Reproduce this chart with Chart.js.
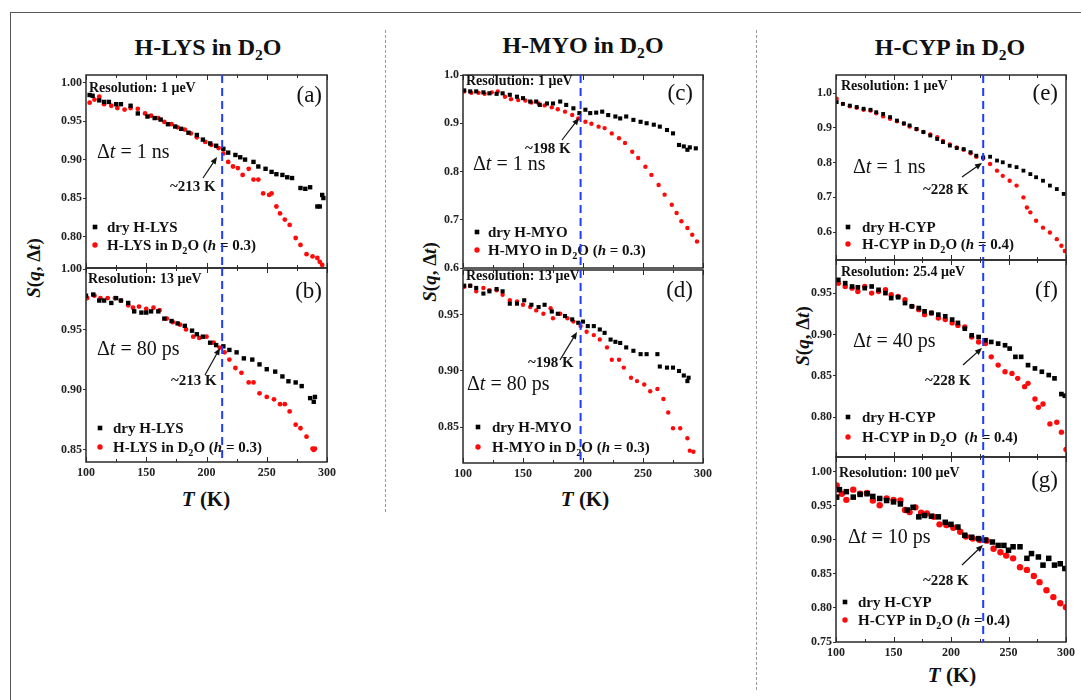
<!DOCTYPE html>
<html>
<head>
<meta charset="utf-8">
<script src="https://cdn.jsdelivr.net/npm/chart.js@4.4.0/dist/chart.umd.min.js"></script>
<style>
  body { margin: 0; width: 1081px; height: 700px; position: relative; background: #fff; overflow: hidden;
         font-family: "Liberation Serif", "Times New Roman", serif; color: #111; }
  canvas { position: absolute; left: 0; top: 0; }
  .txt { position: absolute; font-weight: bold; white-space: nowrap; line-height: 1; }
  .title { font-size: 24px; transform: translateX(-50%); }
  .xt { font-size: 21px; transform: translateX(-50%); }
  .yt { font-size: 19px; transform: translate(-50%, -50%) rotate(-90deg); }
  .sub { font-size: 65%; position: relative; top: 0.3em; }
  .line { position: absolute; }
</style>
</head>
<body>
<div class="line" style="left:10px;top:12px;width:1071px;border-top:1px solid #555"></div>
<div class="line" style="left:10px;top:12px;height:688px;border-left:1px solid #555"></div>
<div class="line" style="left:385px;top:30px;height:482px;border-left:1px dashed #999"></div>
<div class="line" style="left:756px;top:30px;height:660px;border-left:1px dashed #999"></div>

<div class="txt title" style="left:208px;top:35px">H-LYS in D<span class="sub">2</span>O</div>
<div class="txt title" style="left:583px;top:33px">H-MYO in D<span class="sub">2</span>O</div>
<div class="txt title" style="left:950px;top:35px">H-CYP in D<span class="sub">2</span>O</div>

<div class="txt xt" style="left:206px;top:489px"><i>T</i> (K)</div>
<div class="txt xt" style="left:585px;top:489px"><i>T</i> (K)</div>
<div class="txt xt" style="left:952px;top:665px"><i>T</i> (K)</div>

<div class="txt yt" style="left:33px;top:268px"><i>S</i>(<i>q</i>, Δ<i>t</i>)</div>
<div class="txt yt" style="left:429px;top:272px"><i>S</i>(<i>q</i>, Δ<i>t</i>)</div>
<div class="txt yt" style="left:802px;top:336px"><i>S</i>(<i>q</i>, Δ<i>t</i>)</div>

<script>
// ---- data: T (K) and S(q, Δt) ----
// (a) H-LYS, 1 ns
const aDryT = [103,105.5,111,115,119,125,129,137,143,151,157,162,168,174,179,185,192,197,203,208,214,218,224,228,232,239,243,249,254,258,263,267,271,278,282,286,292,294,296,297];
const aDryS = [0.984,0.983,0.977,0.975,0.975,0.972,0.972,0.970,0.960,0.956,0.954,0.952,0.946,0.943,0.940,0.935,0.932,0.926,0.921,0.918,0.914,0.909,0.906,0.903,0.900,0.897,0.891,0.888,0.884,0.881,0.880,0.877,0.876,0.863,0.862,0.864,0.839,0.839,0.854,0.850];
const aWetT = [103,107,111,115,121,126,132,137,143,149,154,160,165,171,176,182,187,192,199,204,210,214,218,222,226,230,235,239,243,247,252,254,258,261,265,269,274,278,283,288,292,294,296];
const aWetS = [0.974,0.978,0.982,0.972,0.970,0.967,0.965,0.967,0.966,0.960,0.957,0.954,0.949,0.946,0.942,0.939,0.934,0.929,0.923,0.919,0.915,0.908,0.897,0.891,0.889,0.880,0.888,0.874,0.874,0.856,0.854,0.856,0.839,0.830,0.822,0.815,0.798,0.789,0.777,0.774,0.772,0.767,0.763];
// (b) H-LYS, 80 ps
const bDryT = [100,106,111,115,121,125,129,135,140,146,150,154,160,165,171,176,182,188,192,197,203,208,214,219,225,231,238,244,250,257,263,268,274,279,286,289,290];
const bDryS = [0.978,0.979,0.974,0.974,0.972,0.976,0.974,0.972,0.965,0.964,0.964,0.965,0.965,0.959,0.957,0.955,0.953,0.949,0.946,0.944,0.939,0.937,0.936,0.933,0.931,0.926,0.925,0.921,0.917,0.915,0.911,0.907,0.906,0.903,0.893,0.890,0.894];
const bWetT = [101,107,112,118,124,129,135,139,144,150,156,161,167,172,178,183,189,194,200,206,211,215,219,224,229,235,239,244,250,256,261,265,269,274,278,283,288,289,290];
const bWetS = [0.976,0.978,0.976,0.976,0.976,0.974,0.970,0.968,0.969,0.967,0.968,0.966,0.959,0.956,0.954,0.950,0.944,0.943,0.944,0.939,0.935,0.931,0.925,0.918,0.914,0.906,0.906,0.897,0.894,0.892,0.888,0.888,0.882,0.871,0.868,0.861,0.851,0.850,0.851];
// (c) H-MYO, 1 ns
const cDryT = [101,106,111,117,122,128,133,139,145,150,156,161,164,170,175,181,186,192,197,202,206,211,216,221,227,231,236,242,248,253,259,264,270,275,280,284,287,289,294];
const cDryS = [0.968,0.966,0.966,0.964,0.962,0.961,0.962,0.959,0.955,0.952,0.945,0.945,0.938,0.941,0.941,0.945,0.938,0.931,0.921,0.928,0.921,0.922,0.924,0.917,0.914,0.910,0.914,0.907,0.903,0.900,0.897,0.893,0.886,0.879,0.855,0.852,0.845,0.850,0.848];
const cWetT = [101,107,113,118,124,129,135,140,146,152,157,163,168,174,179,185,191,196,202,207,213,218,224,230,235,241,246,252,257,263,268,274,278,282,287,291,295];
const cWetS = [0.966,0.963,0.963,0.961,0.964,0.966,0.955,0.950,0.948,0.947,0.943,0.941,0.937,0.933,0.929,0.924,0.917,0.910,0.903,0.899,0.893,0.890,0.879,0.869,0.859,0.841,0.828,0.810,0.793,0.772,0.752,0.731,0.714,0.697,0.683,0.669,0.655];
// (d) H-MYO, 80 ps
const dDryT = [101,106,111,117,122,128,133,139,145,151,157,163,168,174,179,185,191,196,200,204,209,214,218,223,227,231,236,242,248,253,262,264,270,275,280,284,287,288];
const dDryS = [0.976,0.976,0.974,0.969,0.971,0.973,0.971,0.960,0.960,0.963,0.959,0.957,0.959,0.953,0.951,0.949,0.946,0.943,0.944,0.940,0.940,0.937,0.934,0.928,0.926,0.925,0.921,0.918,0.915,0.915,0.915,0.904,0.903,0.903,0.900,0.896,0.891,0.894];
const dWetT = [101,106,111,117,122,128,133,139,145,150,156,161,167,173,175,181,187,192,198,203,209,214,220,224,230,234,240,245,251,256,262,267,271,275,281,287,289,292];
const dWetS = [0.975,0.976,0.971,0.974,0.972,0.972,0.968,0.963,0.962,0.959,0.957,0.954,0.951,0.956,0.947,0.951,0.947,0.944,0.940,0.935,0.932,0.928,0.921,0.910,0.910,0.903,0.894,0.891,0.888,0.882,0.884,0.875,0.863,0.849,0.849,0.840,0.829,0.828];
// (e) H-CYP, 1 ns
const eDryT = [100.6,106,112,118,124,130,135,141,147,153,159,164,170,176,182,188,193,199,205,211,217,222,228,234,240,245,251,257,263,269,274,280,286,292,298];
const eDryS = [0.974,0.969,0.964,0.960,0.955,0.952,0.945,0.940,0.931,0.921,0.913,0.907,0.897,0.888,0.878,0.868,0.859,0.849,0.842,0.839,0.830,0.820,0.815,0.817,0.806,0.801,0.791,0.787,0.777,0.767,0.758,0.748,0.734,0.724,0.710];
const eWetT = [100.6,106,112,118,124,130,135,141,147,153,159,164,170,176,182,188,193,199,205,211,217,222,228,234,240,245,251,257,263,266,269,274,280,286,292,296,299];
const eWetS = [0.984,0.969,0.962,0.958,0.952,0.950,0.942,0.933,0.926,0.919,0.912,0.904,0.896,0.888,0.881,0.873,0.862,0.852,0.844,0.837,0.827,0.817,0.813,0.796,0.777,0.762,0.748,0.734,0.700,0.671,0.657,0.633,0.613,0.599,0.580,0.561,0.546];
// (f) H-CYP, 40 ps
const fDryT = [102,108,114,119,125,131,137,143,148,154,160,166,172,177,183,189,195,201,206,212,218,224,230,235,241,247,251,256,261,267,273,279,285,290,296,299];
const fDryS = [0.966,0.962,0.958,0.957,0.956,0.958,0.954,0.950,0.944,0.945,0.938,0.934,0.932,0.928,0.926,0.924,0.922,0.918,0.914,0.907,0.899,0.897,0.893,0.891,0.889,0.887,0.883,0.873,0.873,0.863,0.859,0.855,0.851,0.847,0.828,0.826];
const fWetT = [102,108,114,119,125,131,137,143,148,154,160,166,172,177,183,189,195,201,206,212,218,224,230,235,241,247,253,258,264,267,273,276,280,286,292,296,300];
const fWetS = [0.962,0.958,0.956,0.952,0.958,0.950,0.952,0.954,0.948,0.946,0.942,0.934,0.930,0.924,0.926,0.920,0.918,0.914,0.911,0.909,0.897,0.891,0.889,0.873,0.863,0.855,0.853,0.847,0.837,0.841,0.822,0.812,0.816,0.792,0.794,0.782,0.761];
// (g) H-CYP, 10 ps
const gDryT = [100.6,103,109,115,121,127,132,138,144,150,156,162,167,172,177,183,189,195,200,206,212,218,224,230,236,241,246,250,254,260,266,270,276,280,285,290,295,299];
const gDryS = [0.963,0.974,0.971,0.963,0.967,0.968,0.964,0.961,0.958,0.956,0.953,0.944,0.948,0.934,0.936,0.935,0.934,0.926,0.923,0.919,0.907,0.904,0.902,0.900,0.897,0.892,0.892,0.885,0.890,0.890,0.873,0.880,0.875,0.863,0.873,0.863,0.865,0.858];
const gWetT = [100.6,105,109,115,121,127,132,138,144,150,156,160,164,169,174,179,185,190,196,202,208,213,219,225,231,237,243,248,254,260,266,272,277,283,289,295,300];
const gWetS = [0.980,0.968,0.959,0.974,0.968,0.969,0.958,0.951,0.961,0.959,0.958,0.944,0.941,0.948,0.940,0.939,0.934,0.923,0.922,0.918,0.912,0.905,0.902,0.900,0.899,0.887,0.882,0.877,0.873,0.860,0.856,0.847,0.838,0.826,0.816,0.807,0.801];

// crossover temperatures (blue dashed lines)
const crossLYS = 213, crossMYO = 198, crossCYP = 228;
const xTicks = [100, 150, 200, 250, 300];

const BLACK = '#000', RED = '#ff0a0a', BLUE = '#1f3cff';
const SERIF = '"Liberation Serif", "Times New Roman", serif';

// layout of each panel: plot box [left, top, right, bottom] in page pixels
const panels = [
  { tag: '(a)', box: [86, 75, 327, 268], y: [0.759, 1.01, 0.05, 2], xLabels: false,
    dry: [aDryT, aDryS], wet: [aWetT, aWetS], mark: crossLYS, ms: [3.1, 2.4],
    res: 'Resolution: 1 μeV', dt: 'Δ*t* = 1 ns', dryName: 'dry H-LYS', wetName: 'H-LYS in D_2O (*h* = 0.3)',
    pos: { res: [3, 17], tag: [5, 27], dt: [11, 83], temp: [84, 116], arrow: [117, 103, 131, 82], leg: [9, 21, 152, 170] } },
  { tag: '(b)', box: [86, 268, 327, 462], y: [0.84, 1.001, 0.05, 2], xLabels: true,
    dry: [bDryT, bDryS], wet: [bWetT, bWetS], mark: crossLYS, ms: [3.1, 2.4],
    res: 'Resolution: 13 μeV', dt: 'Δ*t* = 80 ps', dryName: 'dry H-LYS', wetName: 'H-LYS in D_2O (*h* = 0.3)',
    pos: { res: [2, 15], tag: [5, 30], dt: [11, 87], temp: [85, 117], arrow: [119, 107, 134, 80], leg: [14, 27, 160, 179] } },
  { tag: '(c)', box: [463, 75, 703, 268], y: [0.6, 1.0, 0.1, 1], xLabels: false,
    dry: [cDryT, cDryS], wet: [cWetT, cWetS], mark: crossMYO, ms: [2.9, 2.2],
    res: 'Resolution: 1 μeV', dt: 'Δ*t* = 1 ns', dryName: 'dry H-MYO', wetName: 'H-MYO in D_2O (*h* = 0.3)',
    pos: { res: [3, 10], tag: [10, 25], dt: [10, 95], temp: [62, 78], arrow: [99, 65, 116, 43], leg: [14, 25, 157, 175] } },
  { tag: '(d)', box: [463, 270, 703, 463], y: [0.818, 0.99, 0.05, 2], xLabels: true,
    dry: [dDryT, dDryS], wet: [dWetT, dWetS], mark: crossMYO, ms: [2.9, 2.2],
    res: 'Resolution: 13 μeV', dt: 'Δ*t* = 80 ps', dryName: 'dry H-MYO', wetName: 'H-MYO in D_2O (*h* = 0.3)',
    pos: { res: [3, 10], tag: [10, 27], dt: [4, 120], temp: [65, 97], arrow: [97, 90, 114, 62], leg: [15, 29, 157, 177] } },
  { tag: '(e)', box: [836, 75, 1066, 260], y: [0.52, 1.052, 0.1, 1], xLabels: false,
    dry: [eDryT, eDryS], wet: [eWetT, eWetS], mark: crossCYP, ms: [2.7, 2.2],
    res: 'Resolution: 1 μeV', dt: 'Δ*t* = 1 ns', dryName: 'dry H-CYP', wetName: 'H-CYP in D_2O (*h* = 0.4)',
    pos: { res: [5, 15], tag: [8, 25], dt: [17, 98], temp: [87, 119], arrow: [126, 102, 146, 88], leg: [12, 26, 152, 169] } },
  { tag: '(f)', box: [836, 260, 1066, 457], y: [0.752, 0.99, 0.05, 2], xLabels: false,
    dry: [fDryT, fDryS], wet: [fWetT, fWetS], mark: crossCYP, ms: [3.3, 2.7],
    res: 'Resolution: 25.4 μeV', dt: 'Δ*t* = 40 ps', dryName: 'dry H-CYP', wetName: 'H-CYP in D_2O  (*h* = 0.4)',
    pos: { res: [5, 16], tag: [8, 37], dt: [17, 87], temp: [89, 125], arrow: [127, 105, 146, 88], leg: [12, 26, 157, 177] } },
  { tag: '(g)', box: [836, 457, 1066, 642], y: [0.75, 1.022, 0.05, 2], xLabels: true,
    dry: [gDryT, gDryS], wet: [gWetT, gWetS], mark: crossCYP, ms: [3.9, 3.2],
    res: 'Resolution: 100 μeV', dt: 'Δ*t* = 10 ps', dryName: 'dry H-CYP', wetName: 'H-CYP in D_2O (*h* = 0.4)',
    pos: { res: [3, 20], tag: [8, 30], dt: [12, 86], temp: [87, 128], arrow: [126, 108, 147, 88], leg: [9, 22, 145, 163] } }
];

// text with *italic* runs and _x subscripts
function richText(ctx, str, x, y, size, weight) {
  const segs = [];
  let ital = false;
  for (let i = 0; i < str.length; i++) {
    const c = str[i];
    if (c === '*') { ital = !ital; continue; }
    if (c === '_') { segs.push({ t: str[++i], ital, sub: true }); continue; }
    const last = segs[segs.length - 1];
    if (last && !last.sub && last.ital === ital) last.t += c;
    else segs.push({ t: c, ital, sub: false });
  }
  let cx = x;
  ctx.textAlign = 'left';
  ctx.textBaseline = 'alphabetic';
  for (const s of segs) {
    const fs = s.sub ? size * 0.68 : size;
    ctx.font = (s.ital ? 'italic ' : '') + weight + ' ' + fs + 'px ' + SERIF;
    ctx.fillText(s.t, cx, s.sub ? y + size * 0.28 : y);
    cx += ctx.measureText(s.t).width;
  }
}

const panelDecor = {
  id: 'panelDecor',
  afterDatasetsDraw(chart, args, opts) {
    const p = opts.panel;
    const { ctx, chartArea: a } = chart;
    const xs = chart.scales.x;
    const L = a.left, T = a.top;
    ctx.save();

    // frame and inward x ticks (top and bottom)
    ctx.strokeStyle = '#2a2a2a';
    ctx.lineWidth = 1.5;
    ctx.strokeRect(a.left, a.top, a.right - a.left, a.bottom - a.top);
    ctx.lineWidth = 1;
    for (let v = 100; v <= 300; v += 25) {
      const px = Math.round(xs.getPixelForValue(v)) + 0.5;
      const len = v % 50 === 0 ? 5 : 3;
      ctx.beginPath();
      ctx.moveTo(px, a.bottom); ctx.lineTo(px, a.bottom - len);
      ctx.moveTo(px, a.top); ctx.lineTo(px, a.top + len);
      ctx.stroke();
    }

    ctx.fillStyle = '#111';
    const pos = p.pos;
    richText(ctx, p.res, L + pos.res[0], T + pos.res[1], 14, 'bold');
    ctx.font = '23px ' + SERIF;
    ctx.textAlign = 'right';
    ctx.fillText(p.tag, a.right - pos.tag[0], T + pos.tag[1]);
    richText(ctx, p.dt, L + pos.dt[0], T + pos.dt[1], 20, 'normal');
    richText(ctx, '~' + p.mark + ' K', L + pos.temp[0], T + pos.temp[1], 15, 'bold');

    // arrow to the crossover point
    const [x0, y0, x1, y1] = pos.arrow;
    const ax = L + x1, ay = T + y1, bx = L + x0, by = T + y0;
    const ang = Math.atan2(ay - by, ax - bx);
    ctx.strokeStyle = '#111';
    ctx.lineWidth = 1.2;
    ctx.beginPath(); ctx.moveTo(bx, by); ctx.lineTo(ax - 4 * Math.cos(ang), ay - 4 * Math.sin(ang)); ctx.stroke();
    ctx.beginPath();
    ctx.moveTo(ax, ay);
    ctx.lineTo(ax - 7 * Math.cos(ang) + 3 * Math.sin(ang), ay - 7 * Math.sin(ang) - 3 * Math.cos(ang));
    ctx.lineTo(ax - 7 * Math.cos(ang) - 3 * Math.sin(ang), ay - 7 * Math.sin(ang) + 3 * Math.cos(ang));
    ctx.closePath(); ctx.fill();

    // legend
    const [mx, tx, ry1, ry2] = pos.leg;
    ctx.fillStyle = BLACK;
    ctx.fillRect(L + mx - 2.3, T + ry1 - 2.3, 4.6, 4.6);
    ctx.fillStyle = RED;
    ctx.beginPath(); ctx.arc(L + mx, T + ry2, 2.7, 0, Math.PI * 2); ctx.fill();
    ctx.fillStyle = '#111';
    richText(ctx, p.dryName, L + tx, T + ry1 + 5, 15, 'bold');
    richText(ctx, p.wetName, L + tx, T + ry2 + 5, 15, 'bold');

    // blue dashed crossover line
    const vx = xs.getPixelForValue(p.mark);
    ctx.strokeStyle = BLUE;
    ctx.lineWidth = 2;
    ctx.setLineDash([8, 5]);
    ctx.beginPath(); ctx.moveTo(vx, a.top); ctx.lineTo(vx, a.bottom); ctx.stroke();
    ctx.restore();
  }
};

const W = 1081, H = 700;
panels.forEach(function (p) {
  const cv = document.createElement('canvas');
  cv.width = W; cv.height = H;
  document.body.appendChild(cv);
  const [left, top, right, bottom] = p.box;
  const xH = p.xLabels ? 20 : 0;
  const [yMin, yMax, yStep, dec] = p.y;
  const pts = (t, s) => t.map((v, i) => ({ x: v, y: s[i] }));

  new Chart(cv.getContext('2d'), {
    type: 'scatter',
    data: {
      datasets: [
        { label: p.dryName, data: pts(p.dry[0], p.dry[1]), pointStyle: 'rect',
          pointRadius: p.ms[0], backgroundColor: BLACK, borderWidth: 0 },
        { label: p.wetName, data: pts(p.wet[0], p.wet[1]), pointStyle: 'circle',
          pointRadius: p.ms[1], backgroundColor: RED, borderWidth: 0 }
      ]
    },
    options: {
      responsive: false,
      animation: false,
      devicePixelRatio: 1,
      layout: { padding: { left: left - 40, top: top, right: W - right, bottom: H - bottom - xH } },
      plugins: {
        legend: { display: false },
        tooltip: { enabled: false },
        panelDecor: { panel: p }
      },
      scales: {
        x: {
          type: 'linear', min: 100, max: 300,
          afterFit: function (s) { s.height = xH; },
          afterBuildTicks: function (s) { s.ticks = xTicks.map(v => ({ value: v })); },
          border: { display: false },
          grid: { display: false, drawTicks: false },
          ticks: { display: p.xLabels, padding: 4, color: '#222', maxRotation: 0,
                   font: { family: SERIF, size: 12, weight: 'bold' } }
        },
        y: {
          type: 'linear', min: yMin, max: yMax,
          afterFit: function (s) { s.width = 40; },
          border: { display: false },
          grid: { display: true, drawOnChartArea: false, drawTicks: true, tickLength: 3, color: '#333' },
          ticks: { stepSize: yStep, includeBounds: false, padding: 1, color: '#222',
                   font: { family: SERIF, size: 12, weight: 'bold' },
                   callback: v => v.toFixed(dec) }
        }
      }
    },
    plugins: [panelDecor]
  });
});
</script>
</body>
</html>
